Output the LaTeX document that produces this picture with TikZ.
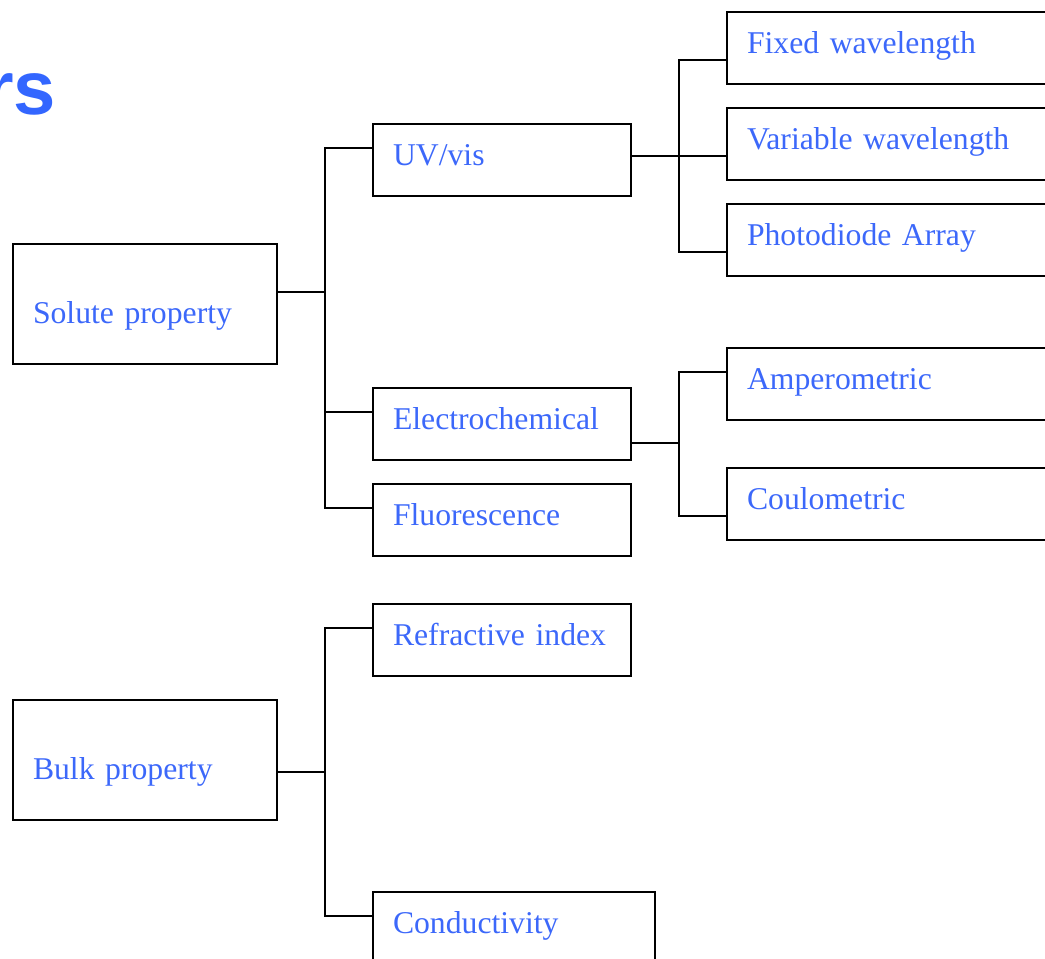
\documentclass[tikz,border=0pt]{standalone}
\usepackage{fontspec}
\setmainfont{Liberation Serif}
\newfontfamily\titlefont{Liberation Sans}
\definecolor{txtblue}{RGB}{60,104,250}
\definecolor{titleblue}{RGB}{51,102,255}
\begin{document}
\begin{tikzpicture}[x=1pt,y=-1pt,
  every node/.style={inner sep=0pt, outer sep=0pt},
  boxbase/.style={draw=black, line width=2pt, anchor=north west, align=left,
    inner xsep=20pt, inner ysep=0pt, text=txtblue,
    font=\fontsize{31.7}{38}\selectfont},
  boxsmall/.style={boxbase, text height=41pt, text depth=31pt},
  boxbig/.style={boxbase, text height=79pt, text depth=41pt},
  conn/.style={draw=black, line width=2pt, line join=miter}]
\useasboundingbox (0,0) rectangle (1045,959);
\clip (0,0) rectangle (1045,959);

\node[anchor=base east, text=titleblue, font=\titlefont\bfseries\fontsize{76}{80}\selectfont] (title) at (56,114) {rs};

\node[boxbig, text width=224pt] (solute) at (13,244) {Solute property};
\node[boxbig, text width=224pt] (bulk) at (13,700) {Bulk property};

\node[boxsmall, text width=218pt] (uv) at (373,124) {UV/vis};
\node[boxsmall, text width=218pt] (echem) at (373,388) {Electrochemical};
\node[boxsmall, text width=218pt] (fluo) at (373,484) {Fluorescence};
\node[boxsmall, text width=218pt] (refr) at (373,604) {Refractive index};
\node[boxsmall, text width=242pt] (cond) at (373,892) {Conductivity};

\node[boxsmall, text width=340pt] (fixed) at (727,12) {Fixed wavelength};
\node[boxsmall, text width=340pt] (var) at (727,108) {Variable wavelength};
\node[boxsmall, text width=340pt] (pda) at (727,204) {Photodiode Array};
\node[boxsmall, text width=340pt] (amp) at (727,348) {Amperometric};
\node[boxsmall, text width=340pt] (coul) at (727,468) {Coulometric};

% Solute property tree
\draw[conn] ([yshift=-24pt]uv.north west) -- ++(-48pt,0) |- ([yshift=-48pt]solute.north east);
\draw[conn] ([yshift=-24pt]echem.north west) -- ++(-48pt,0) |- ([yshift=-48pt]solute.north east);
\draw[conn] ([yshift=-24pt]fluo.north west) -- ++(-48pt,0) |- ([yshift=-48pt]solute.north east);

% UV/vis tree
\draw[conn] ([yshift=-48pt]fixed.north west) -- ++(-48pt,0) |- ([yshift=-32pt]uv.north east);
\draw[conn] ([yshift=-48pt]var.north west) -- ++(-48pt,0) |- ([yshift=-32pt]uv.north east);
\draw[conn] ([yshift=-48pt]pda.north west) -- ++(-48pt,0) |- ([yshift=-32pt]uv.north east);

% Electrochemical tree
\draw[conn] ([yshift=-24pt]amp.north west) -- ++(-48pt,0) |- ([yshift=-55pt]echem.north east);
\draw[conn] ([yshift=-48pt]coul.north west) -- ++(-48pt,0) |- ([yshift=-55pt]echem.north east);

% Bulk property tree
\draw[conn] ([yshift=-24pt]refr.north west) -- ++(-48pt,0) |- ([yshift=-72pt]bulk.north east);
\draw[conn] ([yshift=-24pt]cond.north west) -- ++(-48pt,0) |- ([yshift=-72pt]bulk.north east);
\end{tikzpicture}
\end{document}
